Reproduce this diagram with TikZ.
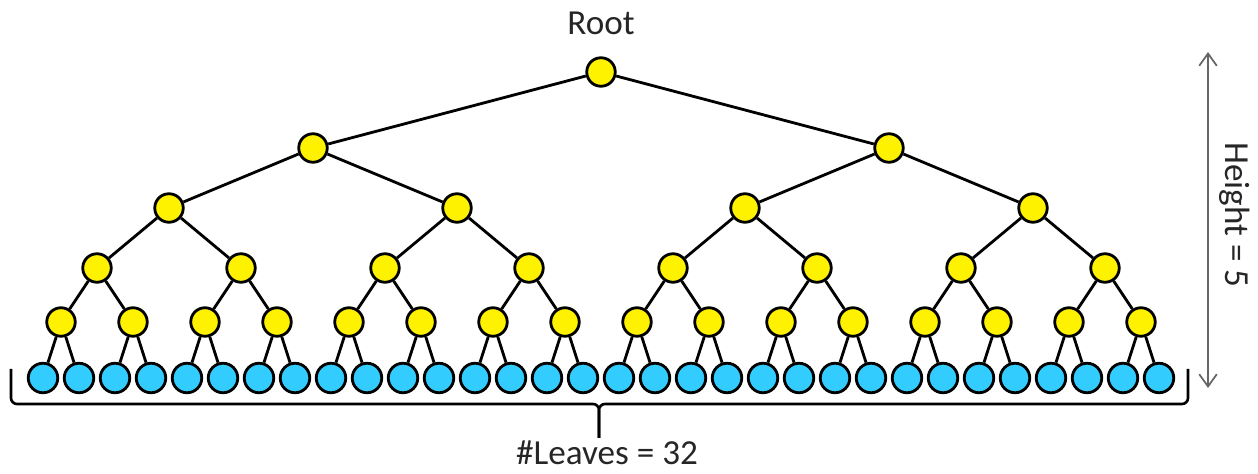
\documentclass[tikz,border=0pt]{standalone}
\usepackage{fontspec}
\setmainfont{Carlito}
\usepackage{tikz}
\usetikzlibrary{arrows.meta,positioning,trees}

\definecolor{leafblue}{HTML}{33CCFF}
\definecolor{darkgraytext}{HTML}{262626}

\begin{document}
\begin{tikzpicture}[line width=1.6pt,
                    level 1/.style={sibling distance=11.52cm, level distance=1.52cm},
                    level 2/.style={sibling distance=5.76cm, level distance=1.2cm},
                    level 3/.style={sibling distance=2.88cm, level distance=1.2cm},
                    level 4/.style={sibling distance=1.44cm, level distance=1.08cm},
                    level 5/.style={sibling distance=0.72cm, level distance=1.12cm}]
	\tikzstyle{inner}=[circle,draw=black,fill=yellow,minimum size=0.57cm,inner sep=0pt]
	\tikzstyle{leaf}=[circle,draw=black,fill=leafblue,minimum size=0.59cm,inner sep=0pt]
	\tikzstyle{lbl}=[font=\fontsize{20}{24}\selectfont,text=darkgraytext,inner sep=0pt]
	\tikzstyle{brace}=[line width=1.5pt,rounded corners=0.12cm]

	\useasboundingbox (0,0) rectangle (25.16,-9.48);

	% the tree, 5 levels
	\node[inner] (root) at (12.02,-1.44) {}
		child foreach \i in {1,2} {node[inner] {}
			child foreach \j in {1,2} {node[inner] {}
				child foreach \k in {1,2} {node[inner] {}
					child foreach \l in {1,2} {node[inner] {}
						child foreach \m in {1,2} {node[leaf] {}}}}}};

	\node[lbl] (rootlbl) [above=0.4cm of root] {Root};

	% brace under the leaves
	\coordinate (bleft)  at (0.22,-7.38);
	\coordinate (bright) at (23.76,-7.38);
	\coordinate (btip)   at (11.98,-8.76);
	\coordinate (bline)  at (0,-8.08);
	\draw[brace] (bleft) |- (btip |- bline) -- (btip);
	\draw[brace] (bright) |- (btip |- bline) -- (btip);
	\node[lbl] (leaveslbl) [below=0.03cm of btip, xshift=0.16cm] {\#Leaves = 32};

	% height arrow
	\coordinate (htop) at (24.16,-1.04);
	\coordinate (hbot) at (24.16,-7.76);
	\draw[{Straight Barb[length=7pt,width=10pt]}-{Straight Barb[length=7pt,width=10pt]},
				line width=1pt,draw=black!60] (htop) -- (hbot);
	\node[lbl,rotate=-90] (heightlbl) at (24.70,-4.30) {Height = 5};
\end{tikzpicture}
\end{document}
